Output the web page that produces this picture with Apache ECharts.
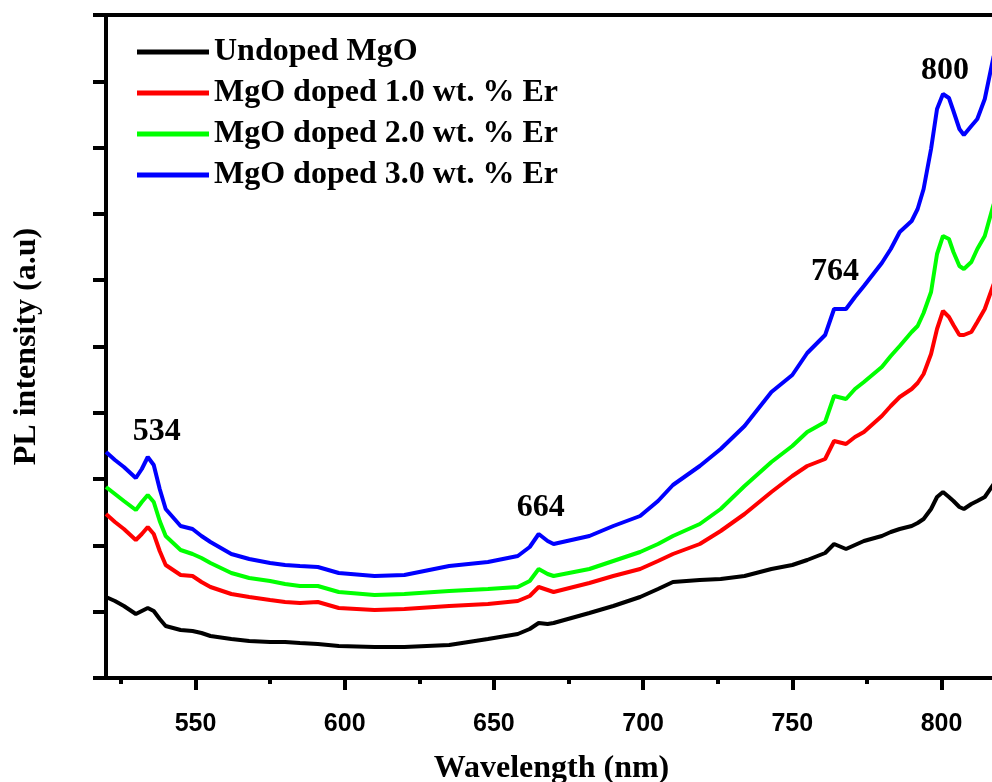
<!DOCTYPE html>
<html><head><meta charset="utf-8">
<script src="https://cdn.jsdelivr.net/npm/echarts@6/dist/echarts.min.js"></script>
<style>html,body{margin:0;padding:0;background:#fff;}#c{width:992px;height:782px;}</style>
</head><body><div id="c"></div>
<script>
const wavelength = [520, 523, 526, 530, 532, 534, 536, 538, 540, 545,
  549, 552, 555, 562, 568, 575, 580, 585, 591, 598,
  610, 620, 635, 648, 658, 662, 665, 668, 670, 682,
  690, 699, 705, 710, 719, 726, 734, 743, 750, 755,
  761, 764, 768, 771, 774, 780, 783, 786, 790, 792,
  794, 796.5, 798.5, 800.5, 802.5, 804, 806, 807.5, 810, 812,
  814.5, 817.5];
const undoped = [81,77,72,64,67,70,67,59,52,48,
  47,45,42,39,37,36,36,35,34,32,
  31,31,33,39,44,49,55,54,55,65,
  72,81,89,96,98,99,102,109,113,118,
  125,134,129,133,137,142,146,149,152,155,
  159,169,181,186,181,177,171,169,174,177,
  181,194];
const doped1 = [164,156,149,138,144,151,144,127,113,103,
  102,96,91,84,81,78,76,75,76,70,
  68,69,72,74,77,82,91,88,86,95,
  102,109,117,124,134,147,164,186,202,212,
  219,237,234,241,246,262,272,281,289,295,
  304,324,349,367,361,353,343,343,346,356,
  369,394];
const doped2 = [191,184,177,168,176,183,176,157,142,128,
  124,120,115,105,100,97,94,92,92,86,
  83,84,87,89,91,97,109,104,102,109,
  117,126,134,142,154,169,192,216,232,246,
  256,282,279,289,296,311,322,332,346,352,
  365,386,424,442,439,426,412,409,416,429,
  442,474];
const doped3 = [226,218,211,200,209,221,213,189,169,152,
  149,142,136,124,119,115,113,112,111,105,
  102,103,112,116,122,131,144,137,134,142,
  152,162,177,193,212,229,252,286,303,325,
  343,369,369,381,392,415,429,446,457,469,
  489,529,569,584,580,567,549,543,552,559,
  579,622];
const seriesNames = ['Undoped MgO', 'MgO doped 1.0 wt. % Er', 'MgO doped 2.0 wt. % Er', 'MgO doped 3.0 wt. % Er'];
const seriesColors = ['#000000', '#ff0000', '#00ff00', '#0000ff'];
const xMajorTicks = [550, 600, 650, 700, 750, 800];
const xMinorTicks = [525, 575, 625, 675, 725, 775];
const peakLabels = ['534', '664', '764', '800'];
const peakLabelX = [537, 665.7, 764.3, 801.2];
const peakLabelY = [246, 170, 406, 607];

const allY = [undoped, doped1, doped2, doped3];
const chart = echarts.init(document.getElementById('c'), null, {renderer: 'canvas'});
const serif = "'Liberation Serif', 'Times New Roman', serif";
const sans = "'Liberation Sans', Arial, sans-serif";

const series = allY.map((ys, i) => ({
  name: seriesNames[i],
  type: 'line',
  xAxisIndex: 0,
  data: wavelength.map((w, j) => [w, ys[j]]),
  showSymbol: false,
  symbol: 'none',
  lineStyle: {color: seriesColors[i], width: 4},
  itemStyle: {color: seriesColors[i]},
  z: 3
}));
series.push({
  name: 'peaks',
  type: 'scatter',
  xAxisIndex: 0,
  symbolSize: 0,
  itemStyle: {opacity: 1, color: '#000'},
  data: peakLabels.map((t, i) => ({value: [peakLabelX[i], peakLabelY[i]], name: t})),
  label: {show: true, position: 'inside', formatter: p => p.name,
    fontFamily: serif, fontWeight: 'bold', fontSize: 32, color: '#000', opacity: 1},
  z: 5
});

chart.setOption({
  animation: false,
  backgroundColor: '#fff',
  grid: {left: 106, right: -5, top: 15, bottom: 104, containLabel: false, outerBoundsMode: 'none',
    show: true, borderColor: '#000', borderWidth: 4, backgroundColor: 'transparent'},
  legend: {
    data: seriesNames,
    orient: 'vertical',
    left: 132, top: 29,
    itemWidth: 72, itemHeight: 5, itemGap: 5,
    icon: 'rect',
    textStyle: {fontFamily: serif, fontWeight: 'bold', fontSize: 32, color: '#000', lineHeight: 36}
  },
  xAxis: [{
    type: 'value', min: 520, max: 818.6,
    name: 'Wavelength (nm)', nameLocation: 'middle', nameGap: 75,
    nameTextStyle: {fontFamily: serif, fontWeight: 'bold', fontSize: 32, color: '#000'},
    axisLine: {show: true, lineStyle: {color: '#000', width: 4}},
    axisTick: {show: true, length: 12, customValues: xMajorTicks, lineStyle: {color: '#000', width: 4}},
    axisLabel: {show: true, customValues: xMajorTicks, margin: 34, fontFamily: sans, fontWeight: 'bold', fontSize: 25, color: '#000'},
    splitLine: {show: false}
  }, {
    type: 'value', min: 520, max: 818.6, position: 'bottom',
    axisLine: {show: false},
    axisTick: {show: true, length: 6, customValues: xMinorTicks, lineStyle: {color: '#000', width: 4}},
    axisLabel: {show: false},
    splitLine: {show: false}
  }],
  yAxis: {
    type: 'value', min: 0, max: 663, interval: 66.3,
    name: 'PL intensity (a.u)', nameLocation: 'middle', nameGap: 63,
    nameTextStyle: {fontFamily: serif, fontWeight: 'bold', fontSize: 32, color: '#000'},
    axisLine: {show: true, lineStyle: {color: '#000', width: 4}},
    axisTick: {show: true, length: 13, lineStyle: {color: '#000', width: 4}},
    axisLabel: {show: false},
    splitLine: {show: false}
  },
  series: series
});
</script>
</body></html>
